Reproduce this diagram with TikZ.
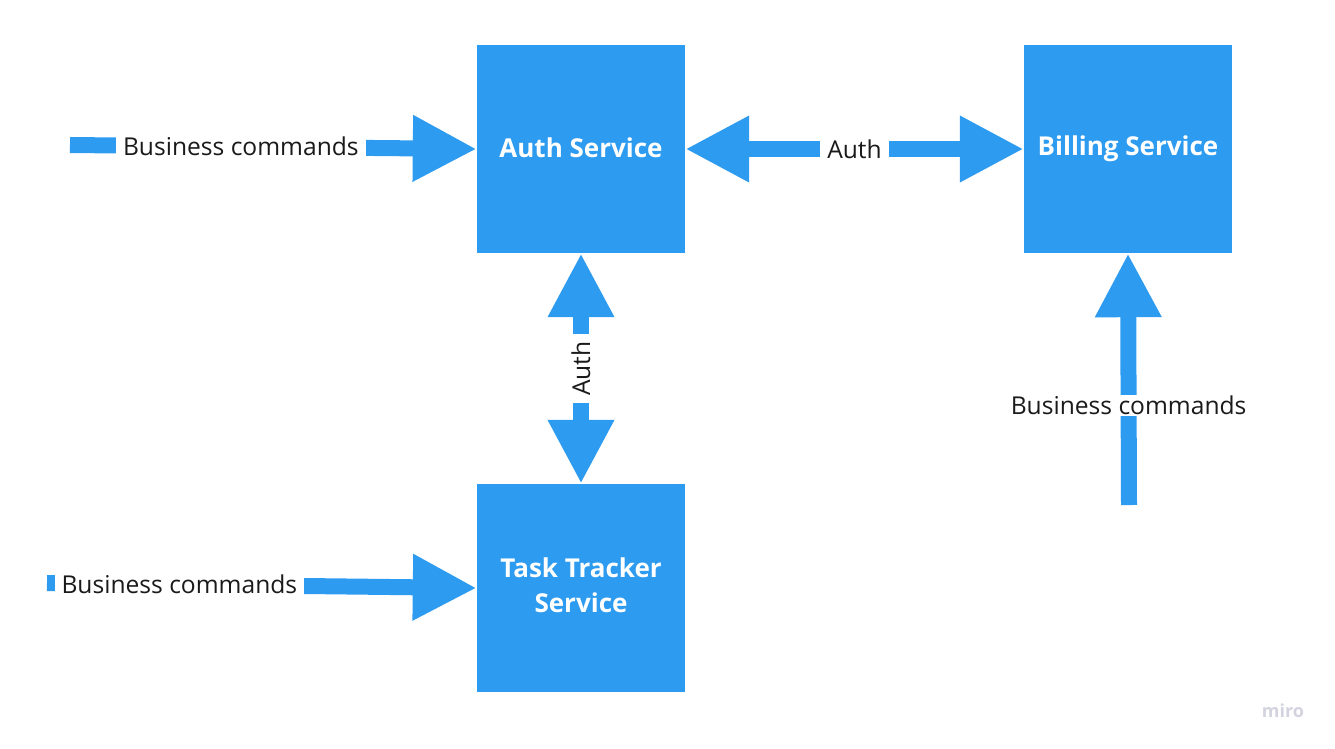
\documentclass[tikz,border=0pt]{standalone}
\usepackage{fontspec}
\setmainfont{Open Sans}
\usetikzlibrary{arrows.meta}
\definecolor{miroblue}{HTML}{2D9BF0}
\definecolor{inkdark}{HTML}{1A1A1A}
\definecolor{logogray}{HTML}{D2D3DE}
\tikzset{
  svcbox/.style={fill=miroblue, text=white, minimum width=208pt, minimum height=208pt,
    inner sep=0pt, align=center, font=\fontsize{26}{35}\selectfont\bfseries},
  conn/.style={draw=miroblue, line width=16pt, line cap=butt},
  bigtip/.tip={Triangle[length=64pt, width=62pt]},
  lbl/.style={fill=white, text=inkdark, inner xsep=7pt, inner ysep=1pt,
    font=\fontsize{24.6}{28}\selectfont},
}
\begin{document}
\begin{tikzpicture}[x=1pt, y=-1pt]
\useasboundingbox (0,0) rectangle (1335,748);
% services
\node[svcbox] (auth) at (581,149) {\raisebox{2pt}{Auth Service}};
\node[svcbox] (bill) at (1128,149) {\raisebox{1pt}{Billing Service}};
\node[svcbox] (task) at (581,588) {\raisebox{3pt}{\begin{tabular}{@{}c@{}}Task Tracker\\Service\end{tabular}}};
% free ends
\coordinate (inA) at (70,145);
\coordinate (inT) at (47,583);
\coordinate (inB) at (1129,505);
% connectors
\draw[conn, -bigtip] (inA) -- node[lbl, pos=0.42] {Business commands} (auth.west);
\draw[conn, bigtip-bigtip] (auth.east) -- node[lbl] {Auth} (bill.west);
\draw[conn, bigtip-bigtip] (auth.south) -- node[lbl, rotate=90] {Auth} (task.north);
\draw[conn, -bigtip] (inB) -- node[lbl, pos=0.395] {Business commands} (bill.south);
\draw[conn, -bigtip] (inT) -- node[lbl, pos=0.308] {Business commands} (task.west);
% watermark
\node[text=logogray, font=\fontsize{18}{20}\selectfont\bfseries] (logo) at (1283,711) {miro};
\end{tikzpicture}
\end{document}
